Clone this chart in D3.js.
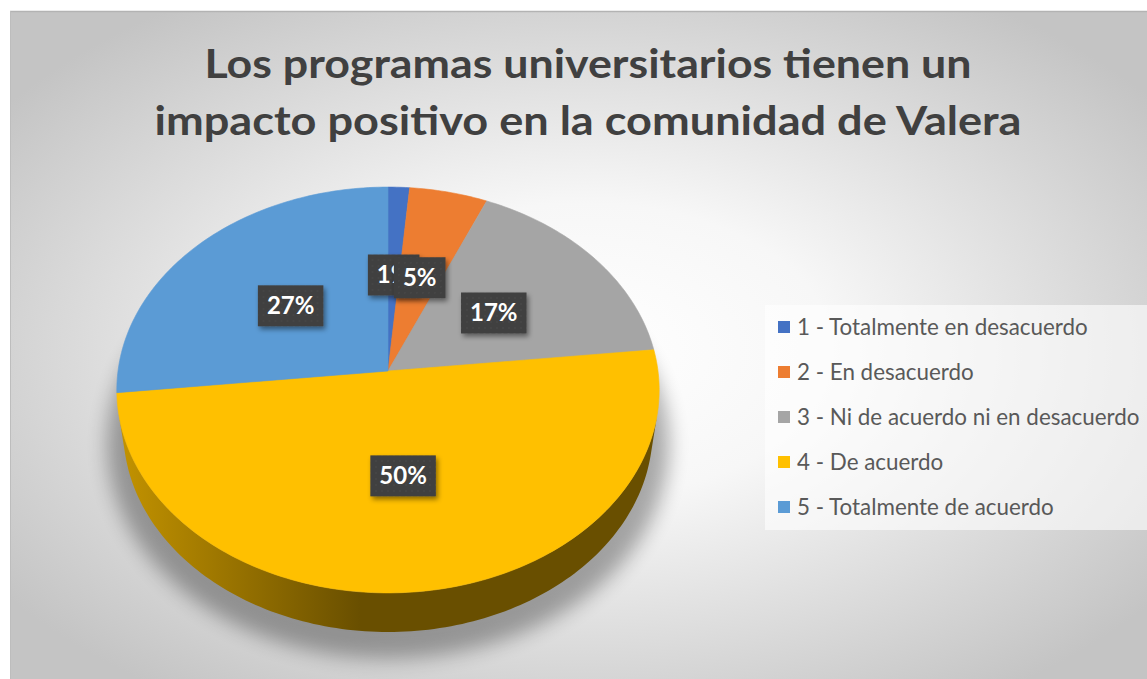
<!DOCTYPE html>
<html lang="es">
<head>
<meta charset="UTF-8">
<title>Programas universitarios - Valera</title>
<script src="https://d3js.org/d3.v7.min.js"></script>
<style>
  body { margin: 0; background: #fff; }
  svg { display: block; }
</style>
</head>
<body>
<svg id="chart" width="1147" height="679"></svg>
<script>
// datos (porcentajes)
var categorias = ["1 - Totalmente en desacuerdo", "2 - En desacuerdo", "3 - Ni de acuerdo ni en desacuerdo", "4 - De acuerdo", "5 - Totalmente de acuerdo"];
var valores = [1.4, 5.1, 16.8, 50, 26.7];
var colores = ["#4472C4", "#ED7D31", "#A5A5A5", "#FFC000", "#5B9BD5"];
var tituloLineas = ["Los programas universitarios tienen un", "impacto positivo en la comunidad de Valera"];

var svg = d3.select("#chart");
var defs = svg.append("defs");

// fondo con degradado radial
var bg = defs.append("radialGradient").attr("id", "bg")
    .attr("cx", 0.5).attr("cy", 0.5).attr("r", 0.62);
bg.append("stop").attr("offset", 0).attr("stop-color", "#ffffff");
bg.append("stop").attr("offset", 0.35).attr("stop-color", "#f7f7f7");
bg.append("stop").attr("offset", 1).attr("stop-color", "#c4c4c4");

svg.append("rect")
    .attr("x", 10).attr("y", 11).attr("width", 1147).attr("height", 679)
    .attr("fill", "url(#bg)");
svg.append("line").attr("x1", 10).attr("y1", 11.5).attr("x2", 1147).attr("y2", 11.5)
    .attr("stroke", "#b3b3b3").attr("stroke-width", 1.5);
svg.append("line").attr("x1", 10.5).attr("y1", 11).attr("x2", 10.5).attr("y2", 679)
    .attr("stroke", "#bdbdbd").attr("stroke-width", 1);

// titulo
svg.selectAll(".titulo").data(tituloLineas).enter().append("text")
    .attr("class", "titulo")
    .attr("x", 588)
    .attr("y", function (d, i) { return 78 + i * 57; })
    .attr("text-anchor", "middle")
    .attr("font-family", "Lato, 'Open Sans', sans-serif")
    .attr("font-weight", "bold")
    .attr("font-size", 41)
    .attr("fill", "#404040")
    .attr("textLength", function (d, i) { return i == 0 ? 767 : 867; })
    .attr("lengthAdjust", "spacingAndGlyphs")
    .text(function (d) { return d; });

// proyeccion en perspectiva del pastel 3D
var cx = 388, cy = 371, f = 1925, D = 7.13;
var se = 0.745, ce = 0.667, alto = 0.232;

function proj(t, r, z) {
    var X = r * Math.sin(t), Y = r * Math.cos(t);
    var depth = D + Y * ce - z * se;
    return [cx + X * f / depth, cy - (Y * se + z * ce) * f / depth];
}

function arco(a0, a1, r, z) {
    var n = Math.max(2, Math.ceil((a1 - a0) / 0.02));
    return d3.range(n + 1).map(function (k) { return proj(a0 + (a1 - a0) * k / n, r, z); });
}

var linea = d3.line();
var pie = d3.pie().sort(null).value(function (d) { return d; });
var arcs = pie(valores);
var total = d3.sum(valores);

// sombra bajo el pastel
var sh = defs.append("filter").attr("id", "sombra")
    .attr("x", -0.2).attr("y", -0.2).attr("width", 1.4).attr("height", 1.4);
sh.append("feGaussianBlur").attr("stdDeviation", 10);

var base = arco(0, 2 * Math.PI, 1.06, -alto);
svg.append("path")
    .attr("d", linea(base) + "Z")
    .attr("transform", "translate(0,12)")
    .attr("fill", "#000").attr("opacity", 0.32)
    .attr("filter", "url(#sombra)");

// lados visibles (solo parte frontal)
var lim = Math.acos(-1 / (D * ce));
var ladoIni = lim, ladoFin = 2 * Math.PI - lim;

arcs.forEach(function (a, i) {
    var a0 = Math.max(a.startAngle, ladoIni), a1 = Math.min(a.endAngle, ladoFin);
    if (a1 <= a0) return;
    var c = d3.color(colores[i]);
    var g = defs.append("linearGradient").attr("id", "lado" + i)
        .attr("gradientUnits", "userSpaceOnUse")
        .attr("x1", 118).attr("y1", 0).attr("x2", 360).attr("y2", 0);
    g.append("stop").attr("offset", 0).attr("stop-color", c.darker(0.75));
    g.append("stop").attr("offset", 1).attr("stop-color", c.darker(2.5));
    var pts = arco(a0, a1, 1, 0).concat(arco(a0, a1, 1, -alto).reverse());
    svg.append("path")
        .attr("d", linea(pts) + "Z")
        .attr("fill", "url(#lado" + i + ")");
});

// caras superiores
svg.selectAll(".cara").data(arcs).enter().append("path")
    .attr("class", "cara")
    .attr("d", function (a) {
        return linea([proj(0, 0, 0)].concat(arco(a.startAngle, a.endAngle, 1, 0))) + "Z";
    })
    .attr("fill", function (a, i) { return colores[i]; })
    .attr("stroke", function (a, i) { return colores[i]; })
    .attr("stroke-width", 0.6);

// etiquetas de datos
var pat = defs.append("pattern").attr("id", "puntos")
    .attr("width", 6).attr("height", 6).attr("patternUnits", "userSpaceOnUse");
pat.append("rect").attr("width", 6).attr("height", 6).attr("fill", "#404040");
pat.append("circle").attr("cx", 3).attr("cy", 3).attr("r", 0.7).attr("fill", "#4c4c4c");

var ds = defs.append("filter").attr("id", "etqsombra")
    .attr("x", -0.3).attr("y", -0.3).attr("width", 1.6).attr("height", 1.6);
ds.append("feDropShadow").attr("dx", 2).attr("dy", 3).attr("stdDeviation", 2.5)
    .attr("flood-color", "#000").attr("flood-opacity", 0.45);

var fmt = d3.format(".0%");
var etq = svg.selectAll(".etq").data(arcs).enter().append("g").attr("class", "etq")
    .attr("transform", function (a) {
        var p = proj((a.startAngle + a.endAngle) / 2, 0.5, 0);
        return "translate(" + p[0] + "," + p[1] + ")";
    });
etq.append("rect");
etq.append("text")
    .attr("text-anchor", "middle")
    .attr("dy", "0.35em")
    .attr("font-family", "Lato, 'Open Sans', sans-serif")
    .attr("font-weight", "bold")
    .attr("font-size", 24)
    .attr("fill", "#fff")
    .text(function (a) { return fmt(a.value / total); });
etq.each(function () {
    var g = d3.select(this);
    var w = g.select("text").node().getComputedTextLength() + 18;
    g.select("rect")
        .attr("x", -w / 2).attr("y", -20.5).attr("width", w).attr("height", 41)
        .attr("fill", "url(#puntos)")
        .attr("filter", "url(#etqsombra)");
});

// leyenda
svg.append("rect")
    .attr("x", 765).attr("y", 305).attr("width", 400).attr("height", 225)
    .attr("fill", "#ffffff").attr("opacity", 0.6);

var ley = svg.selectAll(".ley").data(categorias).enter().append("g").attr("class", "ley")
    .attr("transform", function (d, i) { return "translate(778," + (327 + i * 45) + ")"; });
ley.append("rect")
    .attr("x", 0).attr("y", -6).attr("width", 12).attr("height", 12)
    .attr("fill", function (d, i) { return colores[i]; });
ley.append("text")
    .attr("x", 19).attr("dy", "0.35em")
    .attr("font-family", "Lato, 'Open Sans', sans-serif")
    .attr("font-size", 20)
    .attr("fill", "#595959")
    .text(function (d) { return d; });

// ajustar tamano para que el primer item mida como el original
var w0 = ley.select("text").node().getComputedTextLength();
ley.selectAll("text").attr("font-size", 20 * 291 / w0);
</script>
</body>
</html>
